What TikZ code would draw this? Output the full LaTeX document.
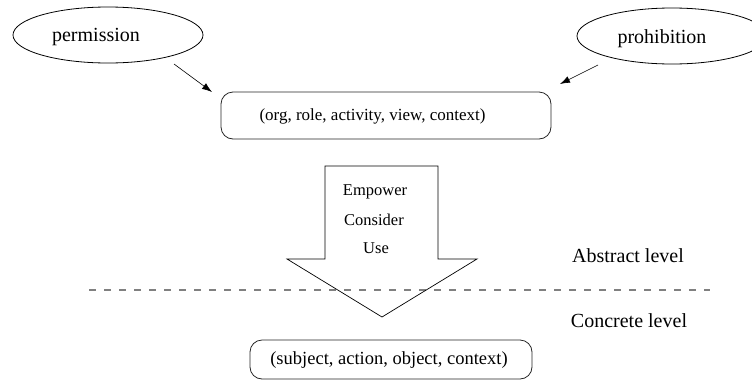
\documentclass[tikz,border=0pt]{standalone}
\usepackage{fontspec}
\setmainfont{Liberation Serif}
\usetikzlibrary{shapes.geometric,arrows.meta}
\begin{document}
\begin{tikzpicture}[x=1pt,y=-1pt,
  modality/.style={draw, ellipse, line width=0.8pt, inner sep=0pt,
    minimum width=190pt, minimum height=56pt},
  tuplebox/.style={draw=black!85, rounded corners=12pt, line width=0.8pt, inner sep=0pt},
  bigtext/.style={inner sep=0pt, font=\fontsize{20}{24}\selectfont},
  midtext/.style={inner sep=0pt, font=\fontsize{17}{20}\selectfont},
  smalltext/.style={inner sep=0pt, font=\fontsize{16.5}{20}\selectfont},
  flow/.style={-{Latex[length=10pt,width=7pt]}, line width=0.6pt},
  levelline/.style={draw=black!50, dash pattern=on 7pt off 8pt, line width=1.4pt}
]
\useasboundingbox (0,0) rectangle (752,381);

% abstract rule modalities
\node[modality] (perm) at (108,35) {};
\node[bigtext] (permtxt) at (96,37) {permission};
\node[modality] (proh) at (672,36) {};
\node[bigtext] (prohtxt) at (662,39) {prohibition};

% abstract rule tuple
\node[tuplebox, minimum width=330pt, minimum height=47pt] (abs) at (386,115.5) {};
\node[midtext] (abstxt) at (372.5,116) {(org, role, activity, view, context)};

\coordinate (permfrom) at (174,64);
\coordinate (permto) at (212,92);
\coordinate (prohfrom) at (598,65);
\coordinate (prohto) at (560,84);
\draw[flow] (permfrom) -- (permto);
\draw[flow] (prohfrom) -- (prohto);

% level separator
\coordinate (sepL) at (89,290);
\coordinate (sepR) at (710,290);
\draw[levelline] (sepL) -- (sepR);

% derivation arrow
\draw[line width=0.7pt, line join=miter]
  (325,166) -- (438,166) -- (438,259) -- (477,259) -- (382,317)
  -- (287,259) -- (325,259) -- cycle;
\node[smalltext] (empower) at (375,192) {Empower};
\node[smalltext] (consider) at (374,220) {Consider};
\node[smalltext] (use) at (376,248) {Use};

\node[bigtext] (abslvl) at (628,256) {Abstract level};
\node[bigtext] (conlvl) at (629,321) {Concrete level};

% concrete rule tuple
\node[tuplebox, minimum width=282pt, minimum height=39pt] (con) at (391,359.5) {};
\node[bigtext, font=\fontsize{18.5}{22}\selectfont] (contxt) at (389,360) {(subject, action, object, context)};
\end{tikzpicture}
\end{document}
